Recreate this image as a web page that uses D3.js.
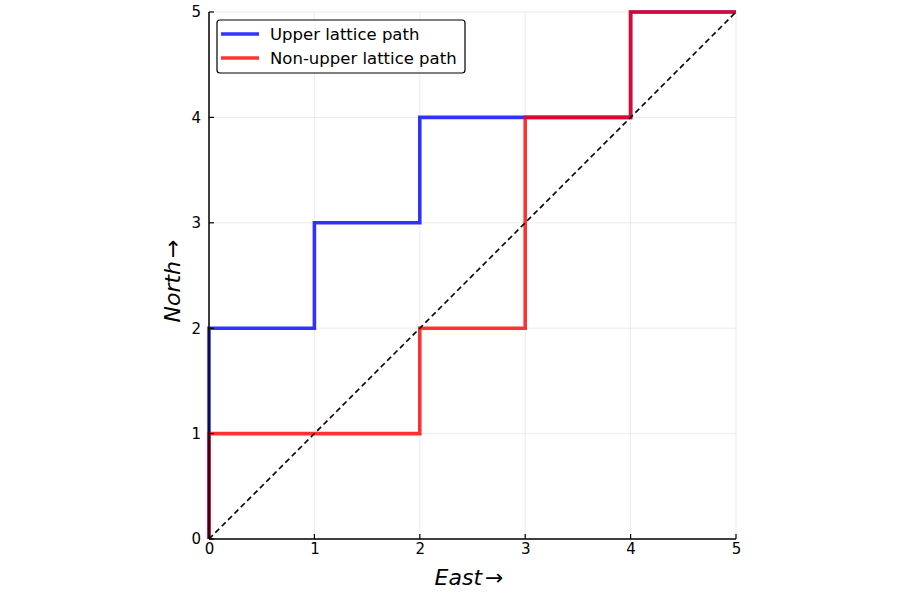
<!DOCTYPE html>
<html><head><meta charset="utf-8">
<script src="https://cdn.jsdelivr.net/npm/d3@7"></script>
<style>body{margin:0;background:#fff}svg{display:block;font-family:"DejaVu Sans",sans-serif}</style>
</head><body><svg id="c" width="900" height="600"></svg>
<script>
const ticks = [0,1,2,3,4,5];
const upperPath = [[0,0],[0,2],[1,2],[1,3],[2,3],[2,4],[3,4],[4,4],[4,5],[5,5]];
const nonUpperPath = [[0,0],[0,1],[2,1],[2,2],[3,2],[3,4],[4,4],[4,5],[5,5]];
const diagonal = [[0,0],[5,5]];
const seriesNames = ["Upper lattice path","Non-upper lattice path"];
const seriesColors = ["rgba(0,0,255,0.8)","rgba(255,0,0,0.8)"];

const svg = d3.select("#c");
const L=209,R=736,T=12,B=539;
const x = d3.scaleLinear().domain([0,5]).range([L,R]);
const y = d3.scaleLinear().domain([0,5]).range([B,T]);

// grid
const g = svg.append("g");
ticks.forEach(t=>{
  g.append("line").attr("x1",x(t)).attr("x2",x(t)).attr("y1",T).attr("y2",B).attr("stroke","#000").attr("stroke-opacity",0.1).attr("stroke-width",0.8);
  g.append("line").attr("y1",y(t)).attr("y2",y(t)).attr("x1",L).attr("x2",R).attr("stroke","#000").attr("stroke-opacity",0.1).attr("stroke-width",0.8);
});

const line = d3.line().x(d=>x(d[0])).y(d=>y(d[1]));
[upperPath,nonUpperPath].forEach((p,i)=>{
  svg.append("path").attr("d",line(p)).attr("fill","none").attr("stroke",seriesColors[i]).attr("stroke-width",3.6).attr("stroke-linejoin","miter");
});
svg.append("path").attr("d",line(diagonal)).attr("fill","none").attr("stroke","#000").attr("stroke-width",1.6).attr("stroke-dasharray","5.5,3.5");

// axes
const xa = svg.append("g").attr("transform",`translate(0,${B})`).call(d3.axisBottom(x).tickValues(ticks).tickSize(0).tickPadding(4).tickFormat(d3.format("d")));
xa.select(".domain").remove();
xa.selectAll("text").style("font-size","15px").style("font-family","DejaVu Sans").attr("fill","#000");
const ya = svg.append("g").attr("transform",`translate(${L},0)`).call(d3.axisLeft(y).tickValues(ticks).tickSize(0).tickPadding(8).tickFormat(d3.format("d")));
ya.select(".domain").remove();
ya.selectAll("text").style("font-size","15px").style("font-family","DejaVu Sans").attr("fill","#000");
ticks.forEach(t=>{
  svg.append("line").attr("x1",x(t)).attr("x2",x(t)).attr("y1",B).attr("y2",B-5).attr("stroke","#000").attr("stroke-width",1.2);
  svg.append("line").attr("y1",y(t)).attr("y2",y(t)).attr("x1",L).attr("x2",L+5).attr("stroke","#000").attr("stroke-width",1.2);
});
svg.append("line").attr("x1",L).attr("x2",R).attr("y1",B).attr("y2",B).attr("stroke","#000").attr("stroke-width",1.5);
svg.append("line").attr("x1",L).attr("x2",L).attr("y1",T).attr("y2",B).attr("stroke","#000").attr("stroke-width",1.5);

const xl = svg.append("text").attr("x",469).attr("y",585).attr("text-anchor","middle").style("font-size","22px");
xl.append("tspan").attr("font-style","italic").text("East");
xl.append("tspan").attr("dx",3).text("→");
const yl = svg.append("text").attr("transform",`translate(180,281) rotate(-90)`).attr("text-anchor","middle").style("font-size","22px");
yl.append("tspan").attr("font-style","italic").text("North");
yl.append("tspan").attr("dx",3).text("→");

// legend
const lg = svg.append("g");
lg.append("rect").attr("x",217).attr("y",20).attr("width",248).attr("height",53).attr("rx",3).attr("fill","#fff").attr("stroke","#000").attr("stroke-width",1.2);
seriesNames.forEach((n,i)=>{
  const yy = 34+i*24;
  lg.append("line").attr("x1",221).attr("x2",259).attr("y1",yy).attr("y2",yy).attr("stroke",seriesColors[i]).attr("stroke-width",3.6);
  lg.append("text").attr("x",270).attr("y",yy+5.5).style("font-size","16.5px").text(n);
});
</script></body></html>
